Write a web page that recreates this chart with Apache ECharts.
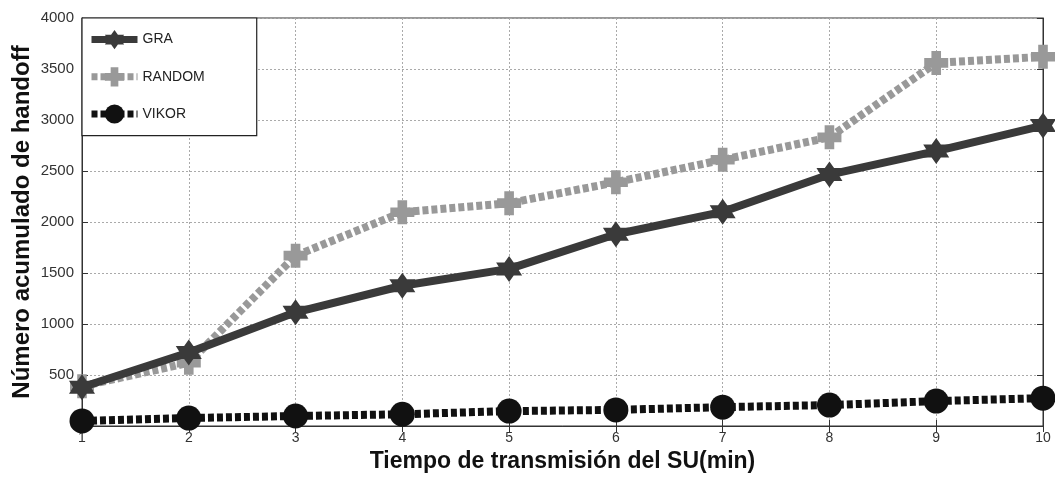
<!DOCTYPE html>
<html><head><meta charset="utf-8">
<script src="https://cdn.jsdelivr.net/npm/echarts@6/dist/echarts.min.js"></script>
<style>html,body{margin:0;padding:0;background:#fff}#c{width:1055px;height:478px}</style>
</head><body><div id="c"></div>
<script>
const xValues = [1,2,3,4,5,6,7,8,9,10];
const graValues = [380,720,1115,1375,1540,1880,2100,2465,2695,2945];
const randomValues = [390,620,1670,2095,2185,2390,2610,2830,3560,3620];
const vikorValues = [50,78,98,115,146,158,185,205,244,273];
const seriesNames = ['GRA','RANDOM','VIKOR'];
const yTicks = [0,500,1000,1500,2000,2500,3000,3500,4000];

const hexagram = 'path://M0,-10 L3.2,-5 L9,-5 L6.2,0 L9,5 L3.2,5 L0,10 L-3.2,5 L-9,5 L-6.2,0 L-9,-5 L-3.2,-5 Z';
const plusShape = 'path://M-4,-10 L4,-10 L4,-4 L10,-4 L10,4 L4,4 L4,10 L-4,10 L-4,4 L-10,4 L-10,-4 L-4,-4 Z';

function pairs(v){ return xValues.map((x,i)=>[x,v[i]]); }

const chart = echarts.init(document.getElementById('c'));
const font = 'Liberation Sans, Arial, sans-serif';
chart.setOption({
  animation:false,
  backgroundColor:'#fff',
  grid:{left:82,right:12,top:18,bottom:50,show:true,borderColor:'#333',borderWidth:1},
  legend:{
    data:seriesNames, orient:'vertical', left:82, top:18,
    backgroundColor:'#fff', borderColor:'#222', borderWidth:1.2,
    padding:[12,52,12,6], itemWidth:46, itemHeight:24, itemGap:18,
    lineStyle:{width:7},
    textStyle:{fontFamily:font,fontSize:14,color:'#222'}
  },
  xAxis:[{
    type:'value', min:1, max:10, interval:1,
    axisLine:{show:true,lineStyle:{color:'#333'}},
    axisTick:{inside:true,length:6,lineStyle:{color:'#333'}},
    axisLabel:{fontFamily:font,fontSize:14,color:'#333',margin:5},
    splitLine:{show:true,lineStyle:{type:[2,2],color:'#aaa'}},
    name:'Tiempo de transmisión del SU(min)', nameLocation:'middle', nameGap:24,
    nameMoveOverlap:false,
    nameTextStyle:{fontFamily:font,fontSize:23,fontWeight:'bold',color:'#111'}
  },{
    type:'value', min:1, max:10, interval:1, position:'top',
    axisLine:{show:true,lineStyle:{color:'#333'}},
    axisTick:{inside:true,length:6,lineStyle:{color:'#333'}},
    axisLabel:{show:false}, splitLine:{show:false}
  }],
  yAxis:[{
    type:'value', min:0, max:4000, interval:500,
    axisLine:{show:true,lineStyle:{color:'#333'}},
    axisTick:{inside:true,length:6,lineStyle:{color:'#333'}},
    axisLabel:{fontFamily:font,fontSize:15,color:'#333',margin:8,
      formatter:v=> (v===0?'':String(v))},
    splitLine:{show:true,lineStyle:{type:[2,2],color:'#aaa'}},
    name:'Número acumulado de handoff', nameLocation:'middle', nameGap:48,
    nameMoveOverlap:false,
    nameTextStyle:{fontFamily:font,fontSize:24,fontWeight:'bold',color:'#111'}
  },{
    type:'value', min:0, max:4000, interval:500, position:'right',
    axisLine:{show:true,lineStyle:{color:'#333'}},
    axisTick:{inside:true,length:6,lineStyle:{color:'#333'}},
    axisLabel:{show:false}, splitLine:{show:false}
  }],
  series:[
    {name:'GRA', type:'line', data:pairs(graValues), symbol:hexagram, symbolSize:26,
     lineStyle:{color:'#3a3a3a',width:8}, itemStyle:{color:'#3a3a3a'}, z:3},
    {name:'RANDOM', type:'line', data:pairs(randomValues), symbol:plusShape, symbolSize:24,
     lineStyle:{color:'#999',width:8,type:[6,3]}, itemStyle:{color:'#999'}, z:2},
    {name:'VIKOR', type:'line', data:pairs(vikorValues), symbol:'circle', symbolSize:25,
     lineStyle:{color:'#111',width:8,type:[6,3]}, itemStyle:{color:'#111'}, z:4}
  ]
});
</script></body></html>
